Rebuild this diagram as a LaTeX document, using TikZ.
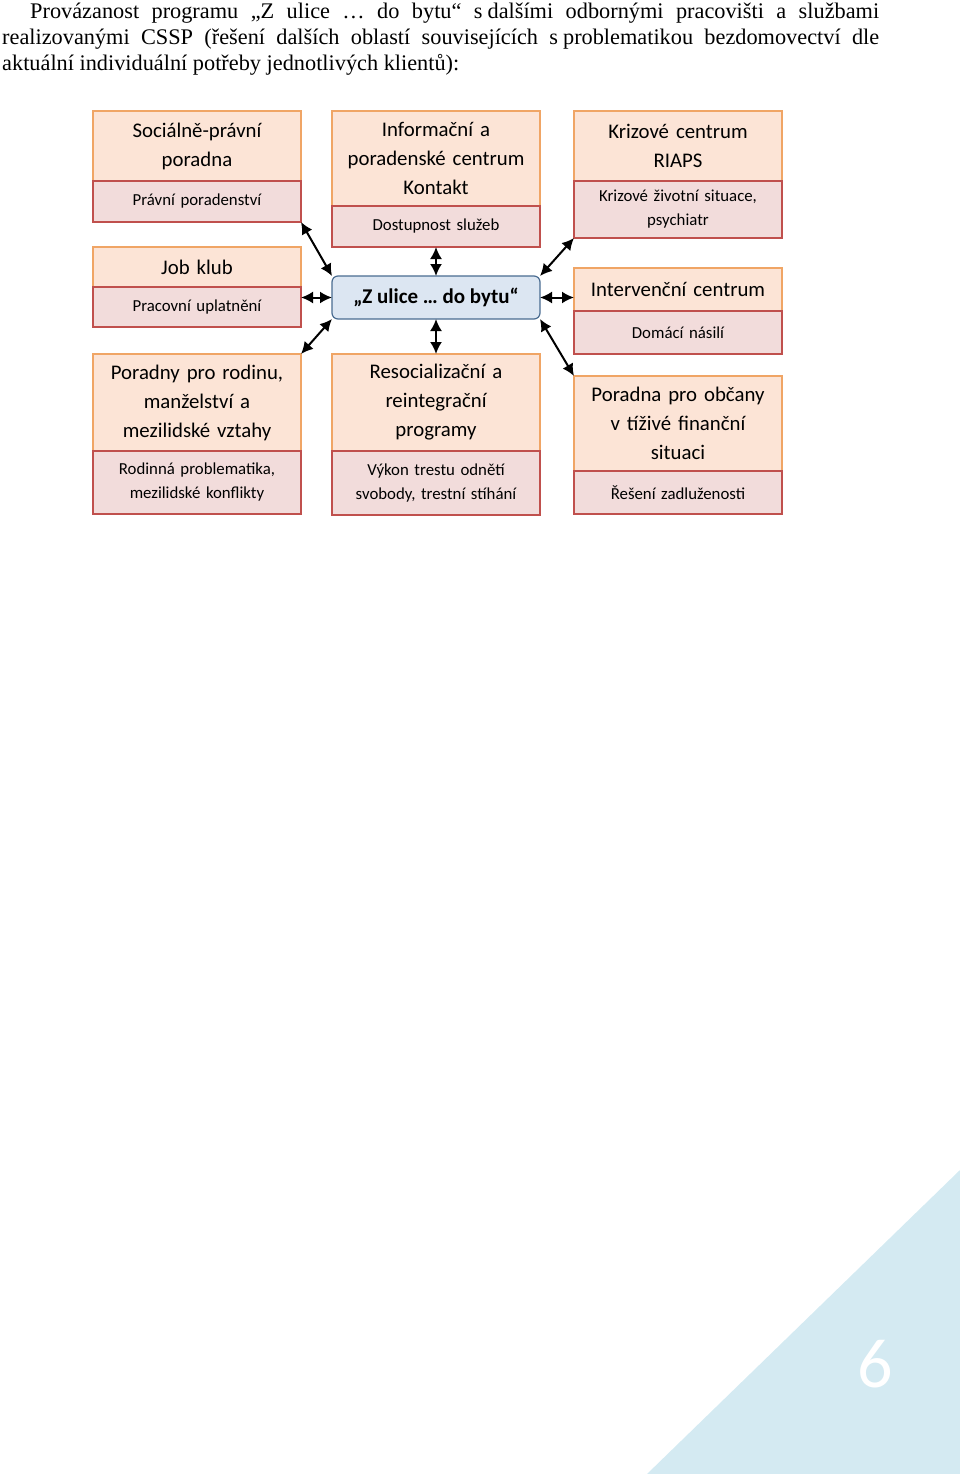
\documentclass[tikz,border=0pt]{standalone}
\usepackage{fontspec}
\setmainfont{Liberation Serif}
\newfontfamily\boxfont{Carlito}
\usetikzlibrary{
    arrows.meta,
    positioning
}
\definecolor{headfill}{HTML}{FCE4D6}
\definecolor{headline}{HTML}{F0A565}
\definecolor{subfill}{HTML}{F2DCDB}
\definecolor{subline}{HTML}{C0504D}
\definecolor{hubfill}{HTML}{DCE6F2}
\definecolor{hubline}{HTML}{4A6C91}
\definecolor{cornerfill}{HTML}{D4EAF2}
\tikzset{
    headbox/.style={draw=headline, fill=headfill, line width=1.2pt, minimum width=208pt,
        text width=206pt, align=center, inner sep=0pt, outer sep=0pt,
        font=\boxfont\fontsize{20.8}{29}\selectfont},
    subbox/.style={headbox, draw=subline, fill=subfill, font=\boxfont\fontsize{16.8}{24}\selectfont},
    hub/.style={draw=hubline, fill=hubfill, line width=1.2pt, rounded corners=6pt,
        minimum width=208pt, minimum height=43pt, inner sep=0pt, outer sep=0pt,
        font=\boxfont\bfseries\fontsize{21}{24}\selectfont},
    link/.style={line width=2pt, arrows={Latex[length=12pt,width=12pt]-Latex[length=12pt,width=12pt]}}
}

\begin{document}
\begin{tikzpicture}[x=1pt, y=-1pt]
    \useasboundingbox (0, 0) rectangle (960, 1474);
    % corner of the page
    \fill[cornerfill] (647, 1474) -- (960, 1474) -- (960, 1170) -- cycle;
    \node[text=white, font=\boxfont\fontsize{70}{70}\selectfont] (page) at (875, 1364) {6};
    % heading text
    \node[anchor=north west, text width=877pt, align=justify, inner sep=0pt,
        font=\fontsize{22.3}{26}\selectfont] (intro) at (2, 3)
        {\hspace*{28pt}Provázanost programu „Z ulice … do bytu“ s\hspace{5pt}dalšími odbornými pracovišti a službami\linebreak
        realizovanými CSSP (řešení dalších oblastí souvisejících s\hspace{5pt}problematikou bezdomovectví dle\linebreak
        aktuální individuální potřeby jednotlivých klientů):};

    % left column
    \node[headbox, minimum height=70pt] (soc) at (197, 146) {Sociálně-právní\\poradna};
    \node[subbox, minimum height=41pt, below=0pt of soc] (socSub) {Právní poradenství};
    \node[headbox, minimum height=40pt] (job) at (197, 267) {Job klub};
    \node[subbox, minimum height=40pt, below=0pt of job] (jobSub) {Pracovní uplatnění};
    \node[headbox, minimum height=97pt] (rodina) at (197, 402.5) {Poradny pro rodinu,\\manželství a\\mezilidské vztahy};
    \node[subbox, minimum height=63pt, below=0pt of rodina] (rodinaSub) {Rodinná problematika,\\mezilidské konflikty};

    % middle column
    \node[headbox, minimum height=95pt] (info) at (436, 158.5) {Informační a\\poradenské centrum\\Kontakt};
    \node[subbox, minimum height=41pt, below=0pt of info] (infoSub) {Dostupnost služeb};
    \node[hub] (zub) at (436, 297.5) {„Z ulice … do bytu“};
    \node[headbox, minimum height=97pt] (reso) at (436, 402.5) {Resocializační a\\reintegrační\\programy};
    \node[subbox, minimum height=64pt, below=0pt of reso] (resoSub) {Výkon trestu odnětí\\svobody, trestní stíhání};

    % right column
    \node[headbox, minimum height=70pt] (kriz) at (678, 146) {Krizové centrum\\RIAPS};
    \node[subbox, minimum height=57pt, below=0pt of kriz] (krizSub) {Krizové životní situace,\\psychiatr};
    \node[headbox, minimum height=43pt] (inter) at (678, 289.5) {Intervenční centrum};
    \node[subbox, minimum height=43pt, below=0pt of inter] (interSub) {Domácí násilí};
    \node[headbox, minimum height=95pt] (obcan) at (678, 423.5) {Poradna pro občany\\v tíživé finanční\\situaci};
    \node[subbox, minimum height=43pt, below=0pt of obcan] (obcanSub) {Řešení zadluženosti};

    % links
    \draw[link] (socSub.south east) -- (zub.north west);
    \draw[link] (infoSub.south) -- (zub.north);
    \draw[link] (krizSub.south west) -- (zub.north east);
    \draw[link] (job.south east |- zub.west) -- (zub.west);
    \draw[link] (inter.south west |- zub.east) -- (zub.east);
    \draw[link] (rodina.north east) -- (zub.south west);
    \draw[link] (reso.north) -- (zub.south);
    \draw[link] (obcan.north west) -- (zub.south east);
\end{tikzpicture}
\end{document}
